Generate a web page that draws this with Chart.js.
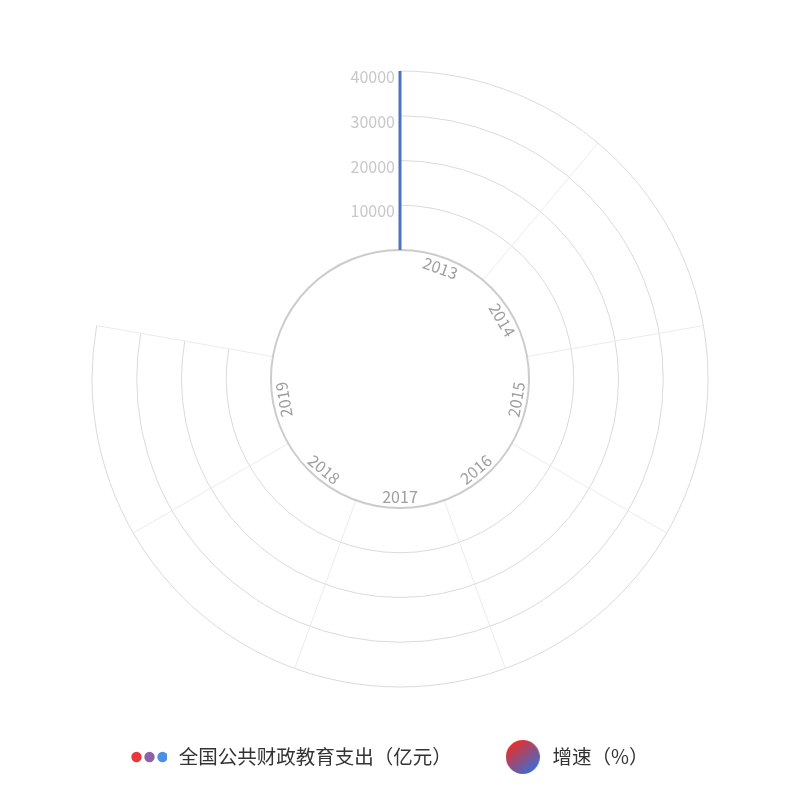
<!DOCTYPE html>
<html>
<head>
<meta charset="utf-8">
<title>全国公共财政教育支出</title>
<script src="https://cdn.jsdelivr.net/npm/chart.js@4.4.0/dist/chart.umd.min.js"></script>
<style>
  html, body { margin: 0; padding: 0; background: #fff; }
</style>
</head>
<body>
<canvas id="chart" width="800" height="810"></canvas>
<script>
// data //
const years = ['2013', '2014', '2015', '2016', '2017', '2018', '2019'];
// no bars are drawn in the picture, so the values stay empty
const spending = [null, null, null, null, null, null, null];   // 亿元
const growth = [null, null, null, null, null, null, null];     // %
const radiusTicks = [0, 10000, 20000, 30000, 40000];
const seriesNames = ['全国公共财政教育支出（亿元）', '增速（%）'];
const dotColors = ['#e8393a', '#8d62a6', '#4b8fe6'];

// polar layout //
const sweep = 280;                 // degrees covered by the angle axis
const slice = sweep / years.length;
const holeValue = -28840;          // pushes the zero ring out from the centre
const fontFamily = '"Noto Sans CJK SC", "Noto Sans", sans-serif';
const toRad = d => d * Math.PI / 180;

// legend icons //
function dotsIcon() {
  const c = document.createElement('canvas');
  c.width = 36; c.height = 12;
  const g = c.getContext('2d');
  dotColors.forEach((col, i) => {
    g.fillStyle = col;
    g.beginPath();
    g.arc(5.5 + i * 13, 6, 5.2, 0, Math.PI * 2);
    g.fill();
  });
  return c;
}
function gradientIcon() {
  const c = document.createElement('canvas');
  c.width = 34; c.height = 34;
  const g = c.getContext('2d');
  const grad = g.createLinearGradient(6, 4, 26, 30);
  grad.addColorStop(0, '#e5302b');
  grad.addColorStop(1, '#4669cc');
  g.fillStyle = grad;
  g.beginPath();
  g.arc(17, 17, 17, 0, Math.PI * 2);
  g.fill();
  return c;
}
const icons = [dotsIcon(), gradientIcon()];

// grid, axis and labels //
const polarGrid = {
  id: 'polarGrid',
  beforeDatasetsDraw(chart) {
    const s = chart.scales.r;
    const ctx = chart.ctx;
    const cx = s.xCenter, cy = s.yCenter;
    const r0 = s.getDistanceFromCenterForValue(0);
    const rMax = s.getDistanceFromCenterForValue(s.max);
    const a0 = -Math.PI / 2;
    const a1 = a0 + toRad(sweep);
    ctx.save();

    // rings
    ctx.strokeStyle = '#dadada';
    ctx.lineWidth = 1;
    s.ticks.forEach(t => {
      if (t.value <= 0) return;
      const r = s.getDistanceFromCenterForValue(t.value);
      ctx.beginPath();
      ctx.arc(cx, cy, r, a0, a1);
      ctx.stroke();
    });

    // split lines between years
    ctx.strokeStyle = '#ebebeb';
    for (let i = 1; i <= years.length; i++) {
      const a = a0 + toRad(i * slice);
      ctx.beginPath();
      ctx.moveTo(cx + r0 * Math.cos(a), cy + r0 * Math.sin(a));
      ctx.lineTo(cx + rMax * Math.cos(a), cy + rMax * Math.sin(a));
      ctx.stroke();
    }

    // angle axis line
    ctx.strokeStyle = '#cccccc';
    ctx.lineWidth = 2;
    ctx.beginPath();
    ctx.arc(cx, cy, r0, 0, Math.PI * 2);
    ctx.stroke();

    // radius axis line
    ctx.strokeStyle = '#4a72c2';
    ctx.lineWidth = 3;
    ctx.beginPath();
    ctx.moveTo(cx, cy - r0);
    ctx.lineTo(cx, cy - rMax);
    ctx.stroke();

    // radius labels
    ctx.font = '16px ' + fontFamily;
    ctx.fillStyle = '#c8c8c8';
    ctx.textAlign = 'right';
    ctx.textBaseline = 'middle';
    s.ticks.forEach(t => {
      if (t.value <= 0) return;
      const r = s.getDistanceFromCenterForValue(t.value);
      ctx.fillText(t.label, cx - 5, cy - r + 6);
    });

    // year labels, turned along the ring
    ctx.font = '16px ' + fontFamily;
    ctx.fillStyle = '#9e9e9e';
    ctx.textAlign = 'center';
    years.forEach((y, i) => {
      const deg = (i + 0.5) * slice;
      const a = a0 + toRad(deg);
      const rr = r0 - 11;
      let rot = deg;
      if (deg > 90 && deg < 240) rot = deg - 180;
      else if (deg >= 240) rot = deg - 360;
      ctx.save();
      ctx.translate(cx + rr * Math.cos(a), cy + rr * Math.sin(a));
      ctx.rotate(toRad(rot));
      ctx.fillText(y, 0, 0);
      ctx.restore();
    });
    ctx.restore();
  }
};

Chart.defaults.font.family = fontFamily;

const ctx = document.getElementById('chart');
new Chart(ctx, {
  type: 'polarArea',
  data: {
    labels: years,
    datasets: [
      { label: seriesNames[0], data: spending, angle: slice, backgroundColor: '#4a72c2', borderWidth: 0 },
      { label: seriesNames[1], data: growth, angle: slice, backgroundColor: '#e5302b', borderWidth: 0 }
    ]
  },
  options: {
    responsive: false,
    animation: false,
    layout: { padding: { top: 71, left: 78, right: 78, bottom: 33.25 } },
    scales: {
      r: {
        min: holeValue,
        max: 40000,
        startAngle: 0,
        afterBuildTicks: scale => { scale.ticks = radiusTicks.map(v => ({ value: v })); },
        ticks: { display: false, callback: v => String(v) },
        grid: { display: false },
        angleLines: { display: false },
        pointLabels: { display: false }
      }
    },
    plugins: {
      tooltip: { enabled: false },
      legend: {
        position: 'bottom',
        align: 'start',
        // empty title only used as a spacer above the legend row
        title: { display: true, text: '', padding: 0, font: { size: 9.25, lineHeight: 1 } },
        labels: {
          usePointStyle: true,
          pointStyleWidth: 40,
          padding: 51,
          color: '#333333',
          font: { size: 19.5 },
          generateLabels: chart => chart.data.datasets.map((ds, i) => ({
            text: ds.label,
            pointStyle: icons[i],
            fillStyle: 'transparent',
            strokeStyle: 'transparent',
            lineWidth: 0,
            fontColor: '#333333',
            hidden: false,
            datasetIndex: i
          }))
        }
      }
    }
  },
  plugins: [polarGrid]
});
</script>
</body>
</html>
